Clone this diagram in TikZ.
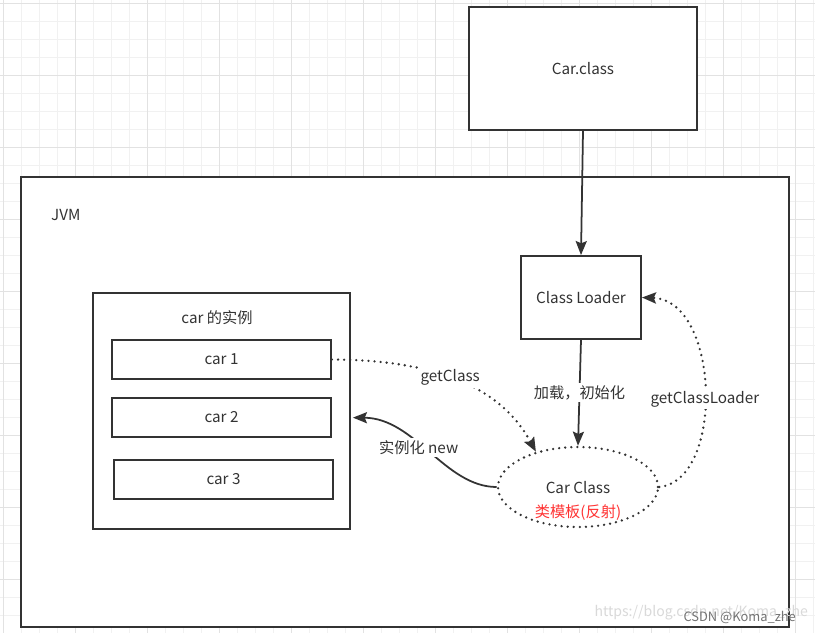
\documentclass[tikz,border=0pt]{standalone}
\usepackage{fontspec}
\setmainfont{Noto Sans CJK SC}
\usetikzlibrary{arrows.meta,shapes.geometric}

\definecolor{ink}{HTML}{333333}
\definecolor{noteRed}{HTML}{FF3333}
\definecolor{gridMinor}{HTML}{F1F1F1}
\definecolor{gridMajor}{HTML}{E2E2E2}

\tikzset{
  box/.style={draw=ink, line width=1.6pt, fill=white, inner sep=0pt},
  txt/.style={text=ink, font=\fontsize{13pt}{16pt}\selectfont},
  dotline/.style={draw=ink, line width=2.2pt, dash pattern=on 0pt off 5.2pt, line cap=round},
  solidline/.style={draw=ink, line width=1.5pt},
  tag/.style={txt, fill=white, inner sep=2pt}
}

\begin{document}
\begin{tikzpicture}[x=0.03cm, y=-0.03cm, >={Stealth[length=12pt, width=9.5pt, inset=2pt]}]

  \useasboundingbox (0,0) rectangle (815,633);

  % background grid
  \foreach \gx in {3.3,21.3,...,815} \draw[gridMinor, line width=0.5pt] (\gx,0) -- (\gx,633);
  \foreach \gy in {3.3,21.3,...,633} \draw[gridMinor, line width=0.5pt] (0,\gy) -- (815,\gy);
  \foreach \gx in {3.3,75.3,...,815} \draw[gridMajor, line width=0.6pt] (\gx,0) -- (\gx,633);
  \foreach \gy in {3.3,75.3,...,633} \draw[gridMajor, line width=0.6pt] (0,\gy) -- (815,\gy);

  % boxes
  \node[box, minimum width=23.04cm, minimum height=13.5cm] (jvm) at (405,402) {};
  \node[txt, anchor=west] (jvmname) at (47,215) {JVM};

  \node[box, txt, minimum width=6.84cm, minimum height=3.69cm] (carclass) at (583,68.5) {Car.class};
  \node[box, txt, minimum width=3.6cm, minimum height=2.49cm] (loader) at (581,297.5) {Class Loader};

  \node[box, minimum width=7.71cm, minimum height=7.08cm] (inst) at (221.5,411) {};
  \node[txt] (instname) at (217,318) {car 的实例};
  \node[box, txt, minimum width=6.57cm, minimum height=1.17cm] (car1) at (221.5,359.5) {car 1};
  \node[box, txt, minimum width=6.57cm, minimum height=1.17cm] (car2) at (221.5,417.5) {car 2};
  \node[box, txt, minimum width=6.57cm, minimum height=1.17cm] (car3) at (223.5,479.5) {car 3};

  % class template
  \node[ellipse, dotline, minimum width=4.8cm, minimum height=2.4cm, inner sep=0pt] (cls) at (578,487) {};
  \node[txt] (clsname) at (578,488) {Car Class};
  \node[txt, text=noteRed] (clsnote) at (578,513) {类模板(反射)};

  % connectors
  \draw[solidline, ->] (carclass.south) -- (loader.north);
  \draw[solidline, ->] (loader.south) -- (cls.north)
    node[tag, midway] {加载，初始化};
  \draw[dotline, ->] (car1.east) .. controls (450,360) and (505,395) .. (cls.140)
    node[tag, pos=0.42] {getClass};
  \draw[solidline, ->, shorten >=0.63cm] (cls.west) .. controls (445,487) and (415,418) .. (car2.east)
    node[tag, pos=0.55] {实例化 new};
  \draw[dotline, ->] (cls.east) .. controls (725,480) and (720,300) .. (loader.east)
    node[tag, pos=0.47] {getClassLoader};

  % watermark
  \node[text=black!15, font=\fontsize{12pt}{14pt}\selectfont, anchor=east] (wmurl) at (812,613) {https://blog.csdn.net/Koma\_zhe};
  \node[text=black!55, font=\fontsize{11pt}{13pt}\selectfont, anchor=east] (wmcsdn) at (800,617) {CSDN @Koma\_zhe};

\end{tikzpicture}
\end{document}
